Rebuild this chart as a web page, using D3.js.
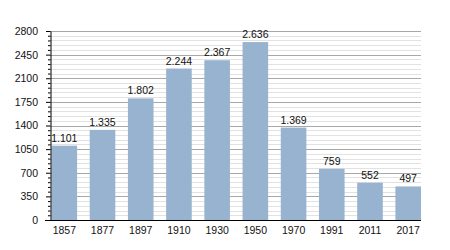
<!DOCTYPE html>
<html>
<head>
<meta charset="utf-8">
<script src="https://cdn.jsdelivr.net/npm/d3@7"></script>
<style>
  body { margin: 0; background: #fff; }
  text { font-family: "Liberation Sans", Arial, sans-serif; }
</style>
</head>
<body>
<div id="chart"></div>
<script>
var years = ["1857", "1877", "1897", "1910", "1930", "1950", "1970", "1991", "2011", "2017"];
var population = [1101, 1335, 1802, 2244, 2367, 2636, 1369, 759, 552, 497];
var labels = ["1.101", "1.335", "1.802", "2.244", "2.367", "2.636", "1.369", "759", "552", "497"];
var majorTicks = [0, 350, 700, 1050, 1400, 1750, 2100, 2450, 2800];

var width = 450, height = 250;
var plotLeft = 50, plotRight = 421, plotTop = 31, plotBottom = 220;
var fontSize = "10.5px";

var svg = d3.select("#chart").append("svg")
    .attr("width", width)
    .attr("height", height);

var y = d3.scaleLinear().domain([0, 2800]).range([plotBottom, plotTop]);
var x = d3.scaleBand().domain(years).range([plotLeft + 1.5, plotRight])
    .paddingInner(0.33).paddingOuter(0);

var minorTicks = d3.range(0, 2801, 70).filter(function(v) { return v % 350 !== 0; });

// minor grid
svg.append("g").selectAll("line")
    .data(minorTicks)
    .enter().append("line")
    .attr("x1", plotLeft).attr("x2", plotRight)
    .attr("y1", function(d) { return Math.round(y(d)) + 0.5; })
    .attr("y2", function(d) { return Math.round(y(d)) + 0.5; })
    .style("stroke", "#e2e2e2")
    .style("stroke-width", 1);

// major grid
svg.append("g").selectAll("line")
    .data(majorTicks.slice(1))
    .enter().append("line")
    .attr("x1", plotLeft).attr("x2", plotRight)
    .attr("y1", function(d) { return Math.round(y(d)) + 0.5; })
    .attr("y2", function(d) { return Math.round(y(d)) + 0.5; })
    .style("stroke", "#a8a8a8")
    .style("stroke-width", 1);

// bars
svg.append("g").selectAll("rect")
    .data(population)
    .enter().append("rect")
    .attr("x", function(d, i) { return x(years[i]); })
    .attr("width", x.bandwidth())
    .attr("y", function(d) { return y(d); })
    .attr("height", function(d) { return plotBottom - y(d); })
    .style("fill", "#98b3cf");

// value labels
svg.append("g").selectAll("text")
    .data(population)
    .enter().append("text")
    .attr("x", function(d, i) { return x(years[i]) + x.bandwidth() / 2; })
    .attr("y", function(d) { return y(d) - 4; })
    .attr("text-anchor", "middle")
    .style("font-size", fontSize)
    .style("fill", "#111")
    .text(function(d, i) { return labels[i]; });

// y axis minor ticks
svg.append("g")
    .attr("transform", "translate(" + (plotLeft + 0.5) + ",0)")
    .call(d3.axisLeft(y).tickValues(minorTicks).tickSize(2.5).tickFormat(""))
    .call(function(g) { g.select(".domain").remove(); })
    .selectAll("line").style("stroke", "#000");

// y axis
var yAxis = svg.append("g")
    .attr("transform", "translate(" + (plotLeft + 0.5) + ",0)")
    .call(d3.axisLeft(y).tickValues(majorTicks).tickSize(4.5).tickSizeOuter(0)
      .tickPadding(8).tickFormat(d3.format("d")));
yAxis.selectAll("text").style("font-size", fontSize).style("fill", "#111");
yAxis.selectAll("line, path").style("stroke", "#000");

// x axis
var xAxis = svg.append("g")
    .attr("transform", "translate(0," + (plotBottom + 0.5) + ")")
    .call(d3.axisBottom(x).tickSize(0).tickPadding(6));
xAxis.select(".domain").attr("d", "M" + (plotLeft - 5) + ",0H" + plotRight).style("stroke", "#000");
xAxis.selectAll("text").style("font-size", fontSize).style("fill", "#111");
</script>
</body>
</html>
